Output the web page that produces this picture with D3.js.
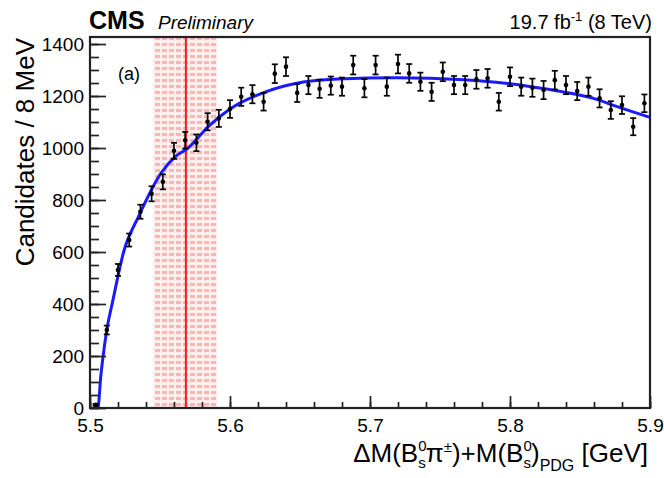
<!DOCTYPE html>
<html>
<head>
<meta charset="utf-8">
<script src="https://cdn.jsdelivr.net/npm/d3@7/dist/d3.min.js"></script>
<style>
  html, body { margin: 0; padding: 0; background: #fff; }
  svg { display: block; font-family: "Liberation Sans", Arial, Helvetica, sans-serif; }
</style>
</head>
<body>
<svg id="chart" width="664" height="478"></svg>
<script>
// ---- data ----
const binCenters = [5.504,5.512,5.520,5.528,5.536,5.544,5.552,5.560,5.568,5.576,
  5.584,5.592,5.600,5.608,5.616,5.624,5.632,5.640,5.648,5.656,
  5.664,5.672,5.680,5.688,5.696,5.704,5.712,5.720,5.728,5.736,
  5.744,5.752,5.760,5.768,5.776,5.784,5.792,5.800,5.808,5.816,
  5.824,5.832,5.840,5.848,5.856,5.864,5.872,5.880,5.888,5.896];
const counts = [12,300,531,646,755,824,870,989,1030,1020,
  1101,1114,1150,1197,1207,1178,1286,1313,1212,1242,
  1228,1240,1236,1319,1230,1319,1236,1323,1287,1255,
  1216,1293,1242,1242,1264,1268,1178,1274,1236,1232,
  1223,1261,1242,1219,1236,1191,1146,1165,1082,1172];
const errors = [3.5,17,23,25,27,29,29,31,32,32,
  33,33,34,35,35,34,36,36,35,35,
  35,35,35,36,35,36,35,36,36,35,
  35,36,35,35,36,36,34,36,35,35,
  35,36,35,35,35,35,34,34,33,34];
// fit curve
const fitX = [5.5057,5.5062,5.5075,5.5093,5.512,5.5164,5.524,5.535,5.551,5.5607,5.57,5.585,5.6,5.625,5.646,5.677,5.719,5.767,5.79,5.814,5.838,5.862,5.875,5.9];
const fitY = [0,18,110,197,300,415,600,740,905,966,1000,1085,1150,1215,1247,1265,1270,1263,1253,1237,1216,1187,1162,1118];
const signalBand = [5.545, 5.591];
const signalPeak = 5.5685;
const xMajorTicks = [5.5,5.6,5.7,5.8,5.9];
const xTickLabels = ["5.5","5.6","5.7","5.8","5.9"];
const yMajorTicks = [0,200,400,600,800,1000,1200,1400];
const yTickLabels = ["0","200","400","600","800","1000","1200","1400"];

// ---- layout ----
const L = 90, R = 650, T = 37, B = 408;
const svg = d3.select("#chart");
const x = d3.scaleLinear().domain([5.5, 5.9]).range([L, R]);
const y = d3.scaleLinear().domain([0, 1427]).range([B, T]);

svg.append("rect").attr("width", 664).attr("height", 478).attr("fill", "#fff");

// pattern for band
const defs = svg.append("defs");
const pat = defs.append("pattern").attr("id", "dots").attr("patternUnits", "userSpaceOnUse")
  .attr("width", 7).attr("height", 6);
pat.append("rect").attr("width", 7).attr("height", 6).attr("fill", "#ffeeee");
pat.append("rect").attr("x", 1).attr("y", 1).attr("width", 5).attr("height", 3).attr("fill", "#fab6b6");

svg.append("rect")
  .attr("x", x(signalBand[0])).attr("y", T)
  .attr("width", x(signalBand[1]) - x(signalBand[0])).attr("height", B - T)
  .attr("fill", "url(#dots)");

svg.append("line")
  .attr("x1", x(signalPeak)).attr("x2", x(signalPeak))
  .attr("y1", T).attr("y2", B)
  .attr("stroke", "#ff1a1a").attr("stroke-width", 2);

// fit curve
const fitData = fitX.map((d, i) => [d, fitY[i]]);
svg.append("path")
  .datum(fitData)
  .attr("d", d3.line().x(d => x(d[0])).y(d => y(d[1])).curve(d3.curveMonotoneX))
  .attr("fill", "none").attr("stroke", "#1a1aff").attr("stroke-width", 3);

// data points
const pts = binCenters.map((c, i) => ({ c, v: counts[i], e: errors[i] }));
const g = svg.append("g");
g.selectAll("line.eb").data(pts).join("line").attr("class", "eb")
  .attr("x1", d => x(d.c)).attr("x2", d => x(d.c))
  .attr("y1", d => y(d.v + d.e)).attr("y2", d => y(Math.max(0, d.v - d.e)))
  .attr("stroke", "#000").attr("stroke-width", 1.7);
g.selectAll("line.capt").data(pts).join("line").attr("class", "capt")
  .attr("x1", d => x(d.c) - 3).attr("x2", d => x(d.c) + 3)
  .attr("y1", d => y(d.v + d.e)).attr("y2", d => y(d.v + d.e))
  .attr("stroke", "#000").attr("stroke-width", 1.7);
g.selectAll("line.capb").data(pts).join("line").attr("class", "capb")
  .attr("x1", d => x(d.c) - 3).attr("x2", d => x(d.c) + 3)
  .attr("y1", d => y(Math.max(0, d.v - d.e))).attr("y2", d => y(Math.max(0, d.v - d.e)))
  .attr("stroke", "#000").attr("stroke-width", 1.7);
g.selectAll("circle").data(pts).join("circle")
  .attr("cx", d => x(d.c)).attr("cy", d => y(d.v)).attr("r", 2.3).attr("fill", "#000");

// axes
const xMinor = d3.range(0, 21).map(i => 5.5 + i * 0.02);
const yMinor = d3.range(0, 29).map(i => i * 50);
const xAxisMinor = d3.axisBottom(x).tickValues(xMinor).tickSize(-6).tickFormat("");
const xAxisMajor = d3.axisBottom(x).tickValues(xMajorTicks).tickSize(-12)
  .tickFormat((d, i) => xTickLabels[i]).tickPadding(11);
const yAxisMinor = d3.axisLeft(y).tickValues(yMinor).tickSize(-9).tickFormat("");
const yAxisMajor = d3.axisLeft(y).tickValues(yMajorTicks).tickSize(-16)
  .tickFormat((d, i) => yTickLabels[i]).tickPadding(6);

function style(sel) {
  sel.select(".domain").remove();
  sel.selectAll(".tick line").attr("stroke", "#222").attr("stroke-width", 1.7);
  sel.selectAll(".tick text").attr("font-size", 19).attr("fill", "#000")
    .attr("font-family", "Liberation Sans, Arial, sans-serif");
}
svg.append("g").attr("transform", `translate(0,${B})`).call(xAxisMinor).call(style);
svg.append("g").attr("transform", `translate(0,${B})`).call(xAxisMajor).call(style);
svg.append("g").attr("transform", `translate(${L},0)`).call(yAxisMinor).call(style);
svg.append("g").attr("transform", `translate(${L},0)`).call(yAxisMajor).call(style);

// frame
svg.append("rect").attr("x", L).attr("y", T).attr("width", R - L).attr("height", B - T)
  .attr("fill", "none").attr("stroke", "#222").attr("stroke-width", 2.2);

// texts
svg.append("text").attr("x", 89).attr("y", 29).attr("font-size", 25).attr("font-weight", "bold")
  .text("CMS");
svg.append("text").attr("x", 158).attr("y", 29).attr("font-size", 19).attr("font-style", "italic")
  .text("Preliminary");

const lumi = svg.append("text").attr("x", 652).attr("y", 29).attr("font-size", 20).attr("text-anchor", "end");
lumi.append("tspan").text("19.7 fb");
lumi.append("tspan").attr("font-size", 13).attr("dy", -8).text("-1");
lumi.append("tspan").attr("dy", 8).text("\u00a0(8 TeV)");

svg.append("text").attr("x", 118).attr("y", 80).attr("font-size", 18).text("(a)");

svg.append("text").attr("transform", "translate(34,38) rotate(-90)")
  .attr("text-anchor", "end").attr("font-size", 26).text("Candidates / 8 MeV");

const xt = svg.append("text").attr("x", 648).attr("y", 462).attr("text-anchor", "end").attr("font-size", 26);
xt.append("tspan").text("\u0394M(B");
xt.append("tspan").attr("font-size", 15).attr("dy", -11).text("0");
xt.append("tspan").attr("font-size", 15).attr("dx", -8.3).attr("dy", 17).text("s");
xt.append("tspan").attr("dy", -6).text("\u03c0");
xt.append("tspan").attr("font-size", 15).attr("dy", -10).text("\u00b1");
xt.append("tspan").attr("dy", 10).text(")+M(B");
xt.append("tspan").attr("font-size", 15).attr("dy", -11).text("0");
xt.append("tspan").attr("font-size", 15).attr("dx", -8.3).attr("dy", 17).text("s");
xt.append("tspan").attr("dy", -6).text(")");
xt.append("tspan").attr("font-size", 16).attr("dy", 9).text("PDG");
xt.append("tspan").attr("dy", -9).text("\u00a0[GeV]");
</script>
</body>
</html>
